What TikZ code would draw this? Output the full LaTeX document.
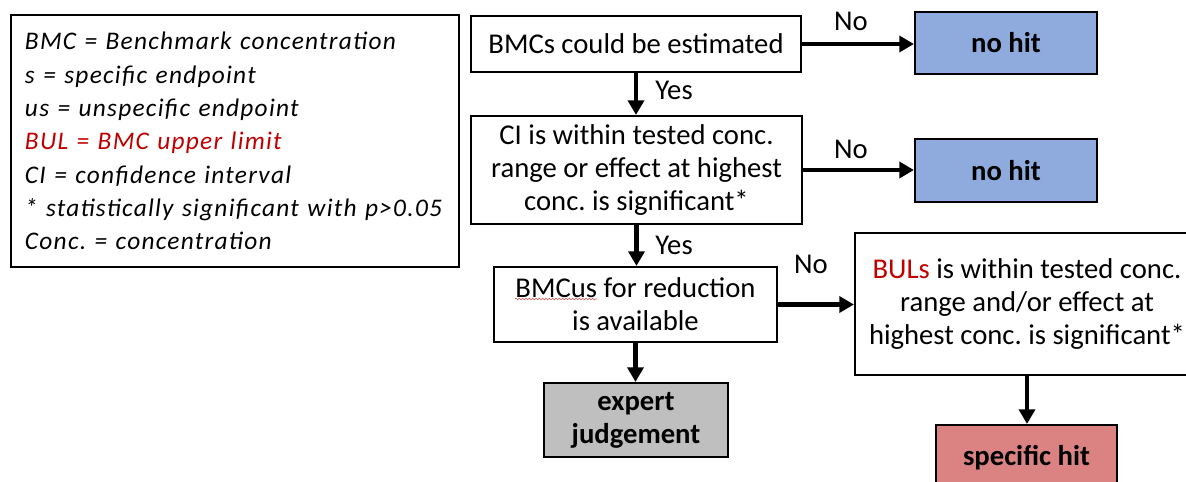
\documentclass[tikz,border=0pt]{standalone}
\usepackage{fontspec}
\setmainfont{Carlito}
\newfontfamily\legendfont{Carlito}[LetterSpace=5]
\usetikzlibrary{arrows.meta,decorations.pathmorphing}
\definecolor{hitblue}{HTML}{8FAADC}
\definecolor{hitgray}{HTML}{BFBFBF}
\definecolor{hitred}{HTML}{DB8383}
\definecolor{bulred}{HTML}{C00000}
\frenchspacing
\begin{document}
\begin{tikzpicture}[x=0.75pt,y=-0.75pt,
  box/.style={draw, line width=1.6pt, inner sep=0pt, align=center,
    font=\fontsize{21.5}{24.75}\selectfont},
  endbox/.style={box, font=\bfseries\fontsize{21.5}{24.75}\selectfont},
  arr/.style={line width=3.4pt, -{Triangle[length=11pt,width=12pt]}},
  lbl/.style={inner sep=0pt, font=\fontsize{21.5}{24}\selectfont},
  legendbox/.style={draw, line width=1pt, text width=315pt, inner xsep=10.5pt,
    minimum height=189pt, align=left, font=\legendfont\itshape\fontsize{19}{25}\selectfont}]
\clip (0,0) rectangle (1186,482);
\fill[white] (0,0) rectangle (1186,482);

% legend
\node[legendbox] (legend) at (235,141) {BMC = Benchmark concentration\\
s = specific endpoint\\
us = unspecific endpoint\\
\textcolor{bulred}{BUL = BMC upper limit}\\
CI = confidence interval\\
{*} statistically significant with p>0.05\\
Conc. = concentration};

% flow boxes
\node[box, minimum width=247.5pt, minimum height=42pt] (b1) at (636,44) {BMCs could be estimated};
\node[box, minimum width=248.25pt, minimum height=81pt] (b2) at (636.5,170) {CI is within tested conc.\\ range or effect at highest\\ conc. is significant*};
\node[box, minimum width=212.25pt, minimum height=56.25pt] (b3) at (635.5,304.5) {BMCus for reduction\\ is available};
\node[box, minimum width=258pt, minimum height=106.5pt] (bul) at (1027,304) {\textcolor{bulred}{BULs} is within tested conc.\\ range and/or effect at\\ highest conc. is significant*};

\node[endbox, fill=hitblue, minimum width=136.5pt, minimum height=46.5pt] (nh1) at (1006,43) {no hit};
\node[endbox, fill=hitblue, minimum width=136.5pt, minimum height=47pt] (nh2) at (1006,170.5) {no hit};
\node[endbox, fill=hitgray, minimum width=138pt, minimum height=55.5pt] (ej) at (636,420) {expert\\ judgement};
\node[endbox, fill=hitred, minimum width=135.75pt, minimum height=49.5pt] (sh) at (1026.5,458) {specific hit};

% spell-check squiggle under BMCus
\draw[bulred!70, line width=0.4pt, decorate, decoration={snake, amplitude=0.6pt, segment length=2.5pt}] (515,299) -- (597,299);

% connectors
\draw[arr] (b1.east) -- (b1.east -| nh1.west);
\draw[arr] (b1.south) -- (b1.south |- b2.north);
\draw[arr] (b2.east) -- (b2.east -| nh2.west);
\draw[arr] (b2.south) -- (b2.south |- b3.north);
\draw[arr] (b3.east) -- (b3.east -| bul.west);
\draw[arr] (b3.south) -- (b3.south |- ej.north);
\draw[arr] (bul.south) -- (bul.south |- sh.north);

% labels
\node[lbl] (no1) at (851,21) {No};
\node[lbl] (no2) at (851,149) {No};
\node[lbl] (no3) at (811,264.5) {No};
\node[lbl] (yes1) at (674,90.5) {Yes};
\node[lbl] (yes2) at (674,245) {Yes};
\end{tikzpicture}
\end{document}
